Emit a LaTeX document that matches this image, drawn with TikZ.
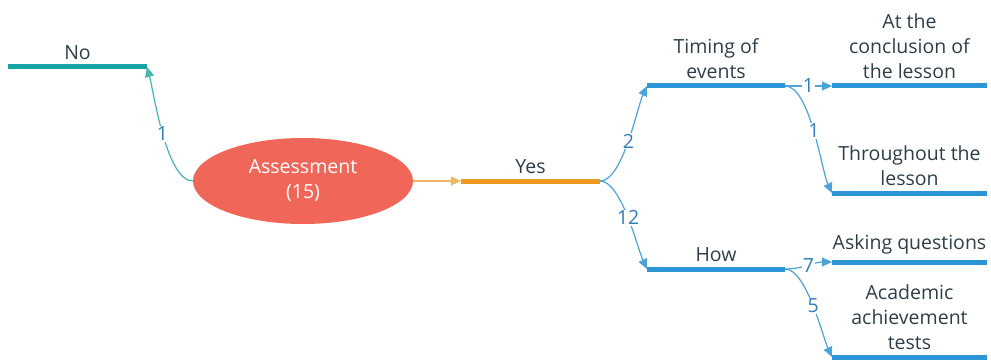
\documentclass[tikz,border=0pt]{standalone}
\usepackage{fontspec}
\setmainfont{Open Sans}
\usetikzlibrary{arrows.meta,positioning,shapes.geometric}

\definecolor{mmTeal}{HTML}{17A3A3}
\definecolor{mmBlue}{HTML}{2B95D6}
\definecolor{mmLink}{HTML}{4CA3D8}
\definecolor{mmNum}{HTML}{2F7FB5}
\definecolor{mmOrange}{HTML}{EA9A1E}
\definecolor{mmSalmon}{HTML}{F0675A}
\definecolor{mmText}{HTML}{2D3E4A}

\begin{document}
\begin{tikzpicture}[x=1pt,y=-1pt,font=\fontsize{19.5}{25}\selectfont,
		bar/.style={line width=5pt},
		link/.style={line width=1.2pt,looseness=0.55,-{Triangle[length=10pt,width=9pt]}},
		num/.style={fill=white,inner sep=1pt,text=mmNum},
		lbl/.style={anchor=south,align=center,text=mmText,inner sep=2pt,yshift=3pt}]
		\useasboundingbox (0,0) rectangle (991,361);
		
		% root
		\node[ellipse, fill=mmSalmon, minimum width=220pt, minimum height=86pt,
		      text=white, align=center, inner sep=0pt] (root) at (303,181) {Assessment\\(15)};
		
		% branch ends
		\coordinate (no-a) at (8,67);     \coordinate (no-b) at (147,67);
		\coordinate (yes-a) at (461,181); \coordinate (yes-b) at (600,181);
		\coordinate (tim-a) at (647,86);  \coordinate (tim-b) at (785,86);
		\coordinate (how-a) at (647,269); \coordinate (how-b) at (785,269);
		\coordinate (end-a) at (832,86);  \coordinate (end-b) at (987,86);
		\coordinate (thr-a) at (832,193); \coordinate (thr-b) at (987,193);
		\coordinate (ask-a) at (832,262); \coordinate (ask-b) at (987,262);
		\coordinate (aca-a) at (832,357); \coordinate (aca-b) at (987,357);
		
		% bars with their labels
		\draw[bar,mmTeal] (no-a) -- (no-b) node[lbl,midway] {No};
		\draw[bar,mmOrange] (yes-a) -- (yes-b) node[lbl,midway] {Yes};
		\draw[bar,mmBlue] (tim-a) -- (tim-b) node[lbl,midway] {Timing of\\events};
		\draw[bar,mmBlue] (how-a) -- (how-b) node[lbl,midway] {How};
		\draw[bar,mmBlue] (end-a) -- (end-b) node[lbl,midway] {At the\\conclusion of\\the lesson};
		\draw[bar,mmBlue] (thr-a) -- (thr-b) node[lbl,midway] {Throughout the\\lesson};
		\draw[bar,mmBlue] (ask-a) -- (ask-b) node[lbl,midway] {Asking questions};
		\draw[bar,mmBlue] (aca-a) -- (aca-b) node[lbl,midway] {Academic\\achievement\\tests};
		
		% connectors
		\draw[link,mmTeal!80] (root.west) to[out=180,in=-75] node[num] {1} (no-b);
		\draw[link,mmOrange!70] (root.east) -- (yes-a);
		\draw[link,mmLink] (yes-b) to[out=0,in=-115] node[num] {2} (tim-a);
		\draw[link,mmLink] (yes-b) to[out=0,in=115] node[num] {12} (how-a);
		\draw[link,mmLink] (tim-b) -- node[num] {1} (end-a);
		\draw[link,mmLink] (tim-b) to[out=0,in=115] node[num] {1} (thr-a);
		\draw[link,mmLink] (how-b) to[out=0,in=180,looseness=1] node[num] {7} (ask-a);
		\draw[link,mmLink] (how-b) to[out=0,in=115] node[num] {5} (aca-a);
	\end{tikzpicture}
\end{document}
